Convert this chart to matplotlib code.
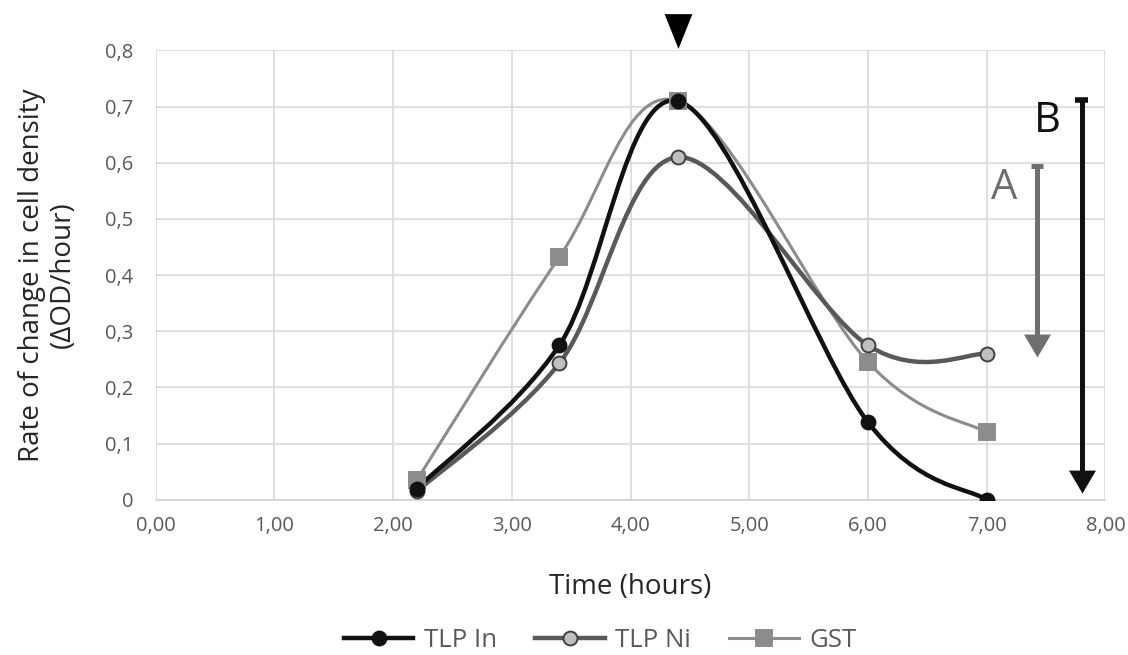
import matplotlib
matplotlib.use("Agg")
import matplotlib.pyplot as plt
from matplotlib.path import Path
from matplotlib.patches import PathPatch
from matplotlib.lines import Line2D

plt.rcParams['font.family'] = ['Open Sans', 'DejaVu Sans']

# data
time_h = [2.2, 3.4, 4.4, 6.0, 7.0]
tlp_in = [0.02, 0.275, 0.71, 0.138, 0.0]
tlp_ni = [0.015, 0.243, 0.61, 0.275, 0.26]
gst = [0.035, 0.432, 0.71, 0.245, 0.12]
series_names = ['TLP In', 'TLP Ni', 'GST']
x_ticks = [0, 1, 2, 3, 4, 5, 6, 7, 8]
y_ticks = [0, 0.1, 0.2, 0.3, 0.4, 0.5, 0.6, 0.7, 0.8]


def smooth_path(xs, ys):
    # Excel-like smoothed line: cubic bezier through the points
    pts = list(zip(xs, ys))
    verts = [pts[0]]
    codes = [Path.MOVETO]
    n = len(pts)
    for i in range(n - 1):
        p0 = pts[i - 1] if i > 0 else pts[i]
        p1 = pts[i]
        p2 = pts[i + 1]
        p3 = pts[i + 2] if i + 2 < n else pts[i + 1]
        c1 = (p1[0] + (p2[0] - p0[0]) / 6, p1[1] + (p2[1] - p0[1]) / 6)
        c2 = (p2[0] - (p3[0] - p1[0]) / 6, p2[1] - (p3[1] - p1[1]) / 6)
        verts += [c1, c2, p2]
        codes += [Path.CURVE4] * 3
    return Path(verts, codes)


fig = plt.figure(figsize=(11.28, 6.55), dpi=100)
ax = fig.add_axes([0.138, 0.237, 0.842, 0.686])

styles = [
    dict(color='#111111', lw=3.2, marker='o', mfc='#111111', mec='#111111', ms=10),
    dict(color='#595959', lw=3.2, marker='o', mfc='#bfbfbf', mec='#404040', ms=10),
    dict(color='#8c8c8c', lw=2.2, marker='s', mfc='#8c8c8c', mec='#8c8c8c', ms=11),
]
order = [2, 1, 0]
for i in order:
    ys = [tlp_in, tlp_ni, gst][i]
    st = styles[i]
    patch = PathPatch(smooth_path(time_h, ys), facecolor='none',
                      edgecolor=st['color'], lw=st['lw'], zorder=3 + (2 - i) * 0.1)
    ax.add_patch(patch)
for i in order:
    ys = [tlp_in, tlp_ni, gst][i]
    st = styles[i]
    ax.plot(time_h, ys, ls='none', marker=st['marker'], ms=st['ms'],
            mfc=st['mfc'], mec=st['mec'], mew=1.4, zorder=4 + (2 - i) * 0.1)

ax.set_xlim(0, 8)
ax.set_ylim(0, 0.8)
ax.set_xticks(x_ticks)
ax.set_xticklabels([f"{v:.2f}".replace('.', ',') for v in x_ticks])
ax.set_yticks(y_ticks)
ax.set_yticklabels(['0'] + [f"{v:.1f}".replace('.', ',') for v in y_ticks[1:]])
ax.grid(True, color='#d9d9d9', lw=1.2)
ax.set_axisbelow(True)
for s in ['top', 'right', 'left']:
    ax.spines[s].set_visible(False)
ax.spines['bottom'].set_color('#d0d0d0')
ax.spines['bottom'].set_linewidth(1.2)
ax.tick_params(axis='x', length=0, labelsize=14.5, colors='#595959', pad=12)
ax.tick_params(axis='y', length=0, labelsize=14.5, colors='#595959', pad=16)

ax.set_xlabel('Time (hours)', fontsize=20, color='#262626', labelpad=26)
ax.set_ylabel('Rate of change in cell density\n(ΔOD/hour)', fontsize=20,
              color='#262626', labelpad=20, linespacing=1.15)

# arrows A and B: shaft + triangular head with its tip on the target value
head = [(-1, 1.7), (1, 1.7), (0, 0), (-1, 1.7)]
ax.plot([7.42, 7.42], [0.595, 0.29], color='#6f6f6f', lw=3.6, solid_capstyle='butt')
ax.plot([7.37, 7.47], [0.595, 0.595], color='#6f6f6f', lw=3.6, solid_capstyle='butt')
ax.plot([7.42], [0.255], marker=head, ms=33, color='#6f6f6f', mew=0)
ax.text(7.15, 0.555, 'A', fontsize=30, color='#6f6f6f', ha='center', va='center')

ax.plot([7.80, 7.80], [0.712, 0.05], color='#111111', lw=3.6, solid_capstyle='butt')
ax.plot([7.745, 7.855], [0.712, 0.712], color='#111111', lw=4, solid_capstyle='butt')
ax.plot([7.80], [0.012], marker=head, ms=33, color='#111111', mew=0)
ax.text(7.51, 0.675, 'B', fontsize=30, color='#111111', ha='center', va='center')

# peak marker above the plot
tri = [(-0.8, 1), (0.8, 1), (0, -1), (-0.8, 1)]
ax.plot([4.4], [0.834], marker=tri, ms=25, color='#000000', mew=0, clip_on=False)

handles = [Line2D([], [], color=st['color'], lw=st['lw'], marker=st['marker'],
                  ms=st['ms'], mfc=st['mfc'], mec=st['mec'], mew=1.4) for st in styles]
fig.legend(handles, series_names, loc='center', bbox_to_anchor=(0.532, 0.022),
           ncol=3, frameon=False, fontsize=18.5, handlelength=2.7,
           columnspacing=1.5, handletextpad=0.4, labelcolor='#595959')

fig.savefig('out.png', dpi=100)
